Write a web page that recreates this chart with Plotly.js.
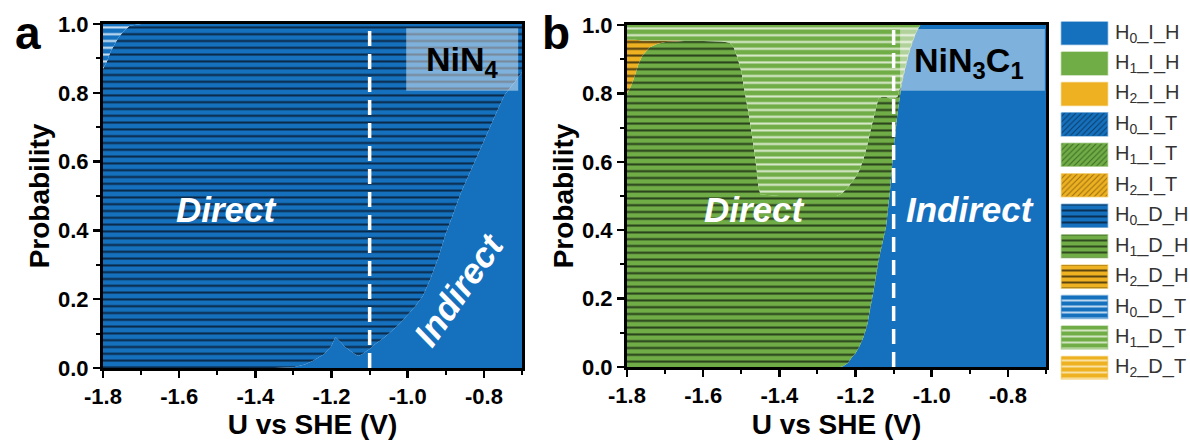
<!DOCTYPE html>
<html><head><meta charset="utf-8">
<script src="https://cdn.plot.ly/plotly-3.0.1.min.js"></script>
<style>html,body{margin:0;padding:0;background:#fff;} #chart{width:1190px;height:440px;}</style>
</head><body><div id="chart"></div>
<script>
// ---------- data ----------
const U_a = [-1.80,-1.79,-1.78,-1.77,-1.76,-1.745,-1.73,-1.70,-1.60,-1.50,-1.40,-1.35,-1.30,-1.27,-1.25,-1.22,-1.20,-1.19,-1.18,-1.165,-1.145,-1.13,-1.12,-1.10,-1.085,-1.06,-1.04,-1.02,-1.00,-0.98,-0.96,-0.94,-0.92,-0.90,-0.88,-0.86,-0.84,-0.82,-0.80,-0.78,-0.76,-0.745,-0.72,-0.70];
const a_H0_I_H = [0,0,0,0,0,0,0,0,0,0,0,0,0.002,0.01,0.02,0.04,0.065,0.09,0.08,0.062,0.045,0.035,0.04,0.055,0.07,0.09,0.11,0.13,0.155,0.18,0.21,0.26,0.32,0.39,0.45,0.51,0.56,0.61,0.66,0.71,0.76,0.795,0.83,0.86];
const a_H0_D_H = [0.87,0.89,0.92,0.94,0.96,0.98,0.995,1,1,1,1,1,0.998,0.99,0.98,0.96,0.935,0.91,0.92,0.938,0.955,0.965,0.96,0.945,0.93,0.91,0.89,0.87,0.845,0.82,0.79,0.74,0.68,0.61,0.55,0.49,0.44,0.39,0.34,0.29,0.24,0.205,0.17,0.14];
const a_H0_D_T = [0.13,0.11,0.08,0.06,0.04,0.02,0.005,0,0,0,0,0,0,0,0,0,0,0,0,0,0,0,0,0,0,0,0,0,0,0,0,0,0,0,0,0,0,0,0,0,0,0,0,0];

const U_b = [-1.80,-1.79,-1.78,-1.77,-1.76,-1.74,-1.72,-1.70,-1.67,-1.65,-1.60,-1.55,-1.53,-1.52,-1.51,-1.50,-1.49,-1.48,-1.47,-1.46,-1.455,-1.45,-1.40,-1.30,-1.25,-1.24,-1.233,-1.22,-1.21,-1.20,-1.19,-1.18,-1.17,-1.16,-1.15,-1.14,-1.13,-1.12,-1.11,-1.10,-1.09,-1.08,-1.07,-1.06,-1.05,-1.04,-1.03,-1.00,-0.90,-0.80,-0.70];
const b_H0_I_H = [0,0,0,0,0,0,0,0,0,0,0,0,0,0,0,0,0,0,0,0,0,0,0,0,0,0,0.002,0.012,0.028,0.04,0.06,0.085,0.12,0.18,0.24,0.31,0.36,0.41,0.51,0.64,0.74,0.82,0.87,0.915,0.95,0.98,1,1,1,1,1];
const b_H1_D_H = [0.80,0.82,0.85,0.885,0.91,0.935,0.945,0.95,0.952,0.953,0.953,0.952,0.948,0.935,0.905,0.865,0.80,0.735,0.665,0.58,0.53,0.505,0.50,0.50,0.50,0.505,0.508,0.513,0.512,0.515,0.515,0.52,0.525,0.515,0.50,0.475,0.43,0.38,0.275,0.145,0.05,0.01,0.005,0.005,0.005,0.002,0,0,0,0,0];
const b_H2_D_H = [0.157,0.137,0.107,0.071,0.045,0.02,0.01,0.005,0.003,0,0,0,0,0,0,0,0,0,0,0,0,0,0,0,0,0,0,0,0,0,0,0,0,0,0,0,0,0,0,0,0,0,0,0,0,0,0,0,0,0,0];
const b_H1_D_T = [0.043,0.043,0.043,0.044,0.045,0.045,0.045,0.045,0.045,0.047,0.047,0.048,0.052,0.065,0.095,0.135,0.20,0.265,0.335,0.42,0.47,0.495,0.50,0.50,0.50,0.495,0.49,0.475,0.46,0.445,0.425,0.395,0.355,0.305,0.26,0.215,0.21,0.21,0.215,0.215,0.21,0.17,0.125,0.08,0.045,0.018,0,0,0,0,0];

const xTickVals = [-1.8,-1.6,-1.4,-1.2,-1.0,-0.8];
const xTickText = ['-1.8','-1.6','-1.4','-1.2','-1.0','-0.8'];
const yTickVals = [0,0.2,0.4,0.6,0.8,1.0];
const yTickText = ['0.0','0.2','0.4','0.6','0.8','1.0'];
const legendKeys = ['H0_I_H','H1_I_H','H2_I_H','H0_I_T','H1_I_T','H2_I_T','H0_D_H','H1_D_H','H2_D_H','H0_D_T','H1_D_T','H2_D_T'];
const legendLabels = ['H<sub>0</sub>_I_H','H<sub>1</sub>_I_H','H<sub>2</sub>_I_H','H<sub>0</sub>_I_T','H<sub>1</sub>_I_T','H<sub>2</sub>_I_T','H<sub>0</sub>_D_H','H<sub>1</sub>_D_H','H<sub>2</sub>_D_H','H<sub>0</sub>_D_T','H<sub>1</sub>_D_T','H<sub>2</sub>_D_T'];
const dividerU = -1.1;

// ---------- styles ----------
const FONT = 'Liberation Sans, Arial, Helvetica, sans-serif';
const BLUE = '#1571BE', GREEN = '#70AD47', ORANGE = '#EDB121';
const style = {
  H0_I_H:{bg:BLUE, bd:'rgba(21,113,190,0.45)'},
  H1_I_H:{bg:GREEN, bd:'rgba(112,173,71,0.45)'},
  H2_I_H:{bg:ORANGE, bd:'rgba(237,177,33,0.45)'},
  H0_I_T:{bg:BLUE, shape:'/', fg:'#0b3a66', bd:'rgba(21,113,190,0.45)'},
  H1_I_T:{bg:GREEN, shape:'/', fg:'#3d6a24', bd:'rgba(112,173,71,0.45)'},
  H2_I_T:{bg:ORANGE, shape:'/', fg:'#9a6e12', bd:'rgba(237,177,33,0.45)'},
  H0_D_H:{bg:BLUE, shape:'-', fg:'#0a2846', bd:'rgba(21,113,190,0.45)'},
  H1_D_H:{bg:GREEN, shape:'-', fg:'#28401b', bd:'rgba(112,173,71,0.45)'},
  H2_D_H:{bg:ORANGE, shape:'-', fg:'#4d3b0f', bd:'rgba(237,177,33,0.45)'},
  H0_D_T:{bg:BLUE, shape:'-', fg:'#cfe2f4', bd:'rgba(21,113,190,0.45)'},
  H1_D_T:{bg:GREEN, shape:'-', fg:'#dcebcf', bd:'rgba(112,173,71,0.45)'},
  H2_D_T:{bg:ORANGE, shape:'-', fg:'#fbe6b3', bd:'rgba(237,177,33,0.45)'}
};

function area(x, y, key, group, xa, ya){
  const s = style[key];
  const t = {type:'scatter', x:x, y:y, name:key, mode:'none', stackgroup:group,
    xaxis:xa, yaxis:ya, fillcolor:s.bg, line:{width:0}, hoverinfo:'skip', showlegend:false};
  if (s.shape) t.fillpattern = {shape:s.shape, bgcolor:s.bg, fgcolor:s.fg, fgopacity:1, size:6.8, solidity:0.3};
  return t;
}

const traces = [
  area(U_a, a_H0_I_H, 'H0_I_H', 'a', 'x', 'y'),
  area(U_a, a_H0_D_H, 'H0_D_H', 'a', 'x', 'y'),
  area(U_a, a_H0_D_T, 'H0_D_T', 'a', 'x', 'y'),
  area(U_b, b_H0_I_H, 'H0_I_H', 'b', 'x2', 'y2'),
  area(U_b, b_H1_D_H, 'H1_D_H', 'b', 'x2', 'y2'),
  area(U_b, b_H2_D_H, 'H2_D_H', 'b', 'x2', 'y2'),
  area(U_b, b_H1_D_T, 'H1_D_T', 'b', 'x2', 'y2')
];

// custom legend swatches (built from the legend list)
const HH = 0.378;
legendKeys.forEach((k, i) => {
  const s = style[k];
  const t = {type:'scatter', x:[0,1,1,0,0], y:[i-HH,i-HH,i+HH,i+HH,i-HH], xaxis:'x3', yaxis:'y3',
    mode:'lines', fill:'toself', fillcolor:s.bg, line:{color:s.bd, width:1.5}, hoverinfo:'skip', showlegend:false};
  if (s.shape) t.fillpattern = {shape:s.shape, bgcolor:s.bg, fgcolor:s.fg, fgopacity:1, size:(s.shape==='/'?4:6), solidity:(s.shape==='/'?0.25:0.3)};
  traces.push(t);
});

const axBase = {showline:true, linewidth:3, linecolor:'#000', mirror:true, ticks:'outside', ticklen:7, tickwidth:2.5,
  tickcolor:'#000', showgrid:false, zeroline:false, fixedrange:true,
  tickfont:{family:FONT, size:22, color:'#000', weight:'bold'},
  minor:{tickmode:'linear', tick0:0, dtick:0.1, ticks:'outside', ticklen:4, tickwidth:2, tickcolor:'#000', showgrid:false}};
const titleFont = {family:FONT, size:28, color:'#000', weight:'bold'};

function xAx(domain, anchor){
  return Object.assign({}, axBase, {domain:domain, anchor:anchor, range:[-1.8,-0.7], tickmode:'array', tickvals:xTickVals, ticktext:xTickText,
    title:{text:'U vs SHE (V)', font:titleFont, standoff:12}});
}
function yAx(domain, anchor){
  return Object.assign({}, axBase, {domain:domain, anchor:anchor, range:[0,1], tickmode:'array', tickvals:yTickVals, ticktext:yTickText,
    title:{text:'Probability', font:titleFont, standoff:1}});
}

const labelFont = {family:FONT, size:35, color:'#fff', weight:'bold', style:'italic'};
const nameFont = {family:FONT, size:34, color:'#000', weight:'bold'};
const letterFont = {family:FONT, size:46, color:'#000', weight:'bold'};
const annotations = [
  {xref:'paper', yref:'paper', x:28/1190, y:1-33/440, xanchor:'center', yanchor:'middle', text:'a', showarrow:false, font:letterFont},
  {xref:'paper', yref:'paper', x:556/1190, y:1-33/440, xanchor:'center', yanchor:'middle', text:'b', showarrow:false, font:letterFont},
  {xref:'x', yref:'y', x:-1.477, y:0.46, text:'Direct', showarrow:false, font:labelFont},
  {xref:'x', yref:'y', x:-0.866, y:0.227, text:'Indirect', showarrow:false, textangle:-55, font:labelFont},
  {xref:'x', yref:'y', x:-0.857, y:0.89, text:'NiN<sub>4</sub>', showarrow:false, font:nameFont},
  {xref:'x2', yref:'y2', x:-1.464, y:0.46, text:'Direct', showarrow:false, font:labelFont},
  {xref:'x2', yref:'y2', x:-0.90, y:0.46, text:'Indirect', showarrow:false, font:labelFont},
  {xref:'x2', yref:'y2', x:-0.903, y:0.89, text:'NiN<sub>3</sub>C<sub>1</sub>', showarrow:false, font:nameFont}
];
legendLabels.forEach((lab, i) => {
  annotations.push({xref:'paper', yref:'y3', x:1113/1190, y:i, xanchor:'left', yanchor:'middle', text:lab, showarrow:false,
    font:{family:FONT, size:20, color:'#333'}});
});

const shapes = [
  {type:'rect', xref:'x', yref:'y', x0:-1.004, x1:-0.71, y0:0.806, y1:0.988, fillcolor:'rgba(255,255,255,0.45)', line:{width:0}, layer:'above'},
  {type:'rect', xref:'x2', yref:'y2', x0:-1.083, x1:-0.703, y0:0.808, y1:0.988, fillcolor:'rgba(255,255,255,0.45)', line:{width:0}, layer:'above'},
  {type:'line', xref:'x', yref:'y domain', x0:dividerU, x1:dividerU, y0:0, y1:1, line:{color:'#fff', width:3.5, dash:'15px,8px'}, layer:'above'},
  {type:'line', xref:'x2', yref:'y2 domain', x0:dividerU, x1:dividerU, y0:0, y1:1, line:{color:'#fff', width:3.5, dash:'15px,8px'}, layer:'above'}
];

const layout = {
  width:1190, height:440, margin:{l:0, r:0, t:0, b:0}, paper_bgcolor:'#fff', plot_bgcolor:'#fff', showlegend:false,
  font:{family:FONT},
  xaxis: xAx([103/1190, 522/1190], 'y'),
  yaxis: yAx([1-368/440, 1-24/440], 'x'),
  xaxis2: xAx([627/1190, 1046/1190], 'y2'),
  yaxis2: yAx([1-367/440, 1-25/440], 'x2'),
  xaxis3: {domain:[1060/1190, 1109/1190], range:[-0.03,1.03], visible:false, showticklabels:false, fixedrange:true, anchor:'y3'},
  yaxis3: {domain:[1-379.5/440, 1-21.5/440], range:[11+HH, -HH], visible:false, showticklabels:false, fixedrange:true, anchor:'x3'},
  annotations: annotations,
  shapes: shapes
};

Plotly.newPlot('chart', traces, layout, {displayModeBar:false, staticPlot:true});
</script>
</body></html>
